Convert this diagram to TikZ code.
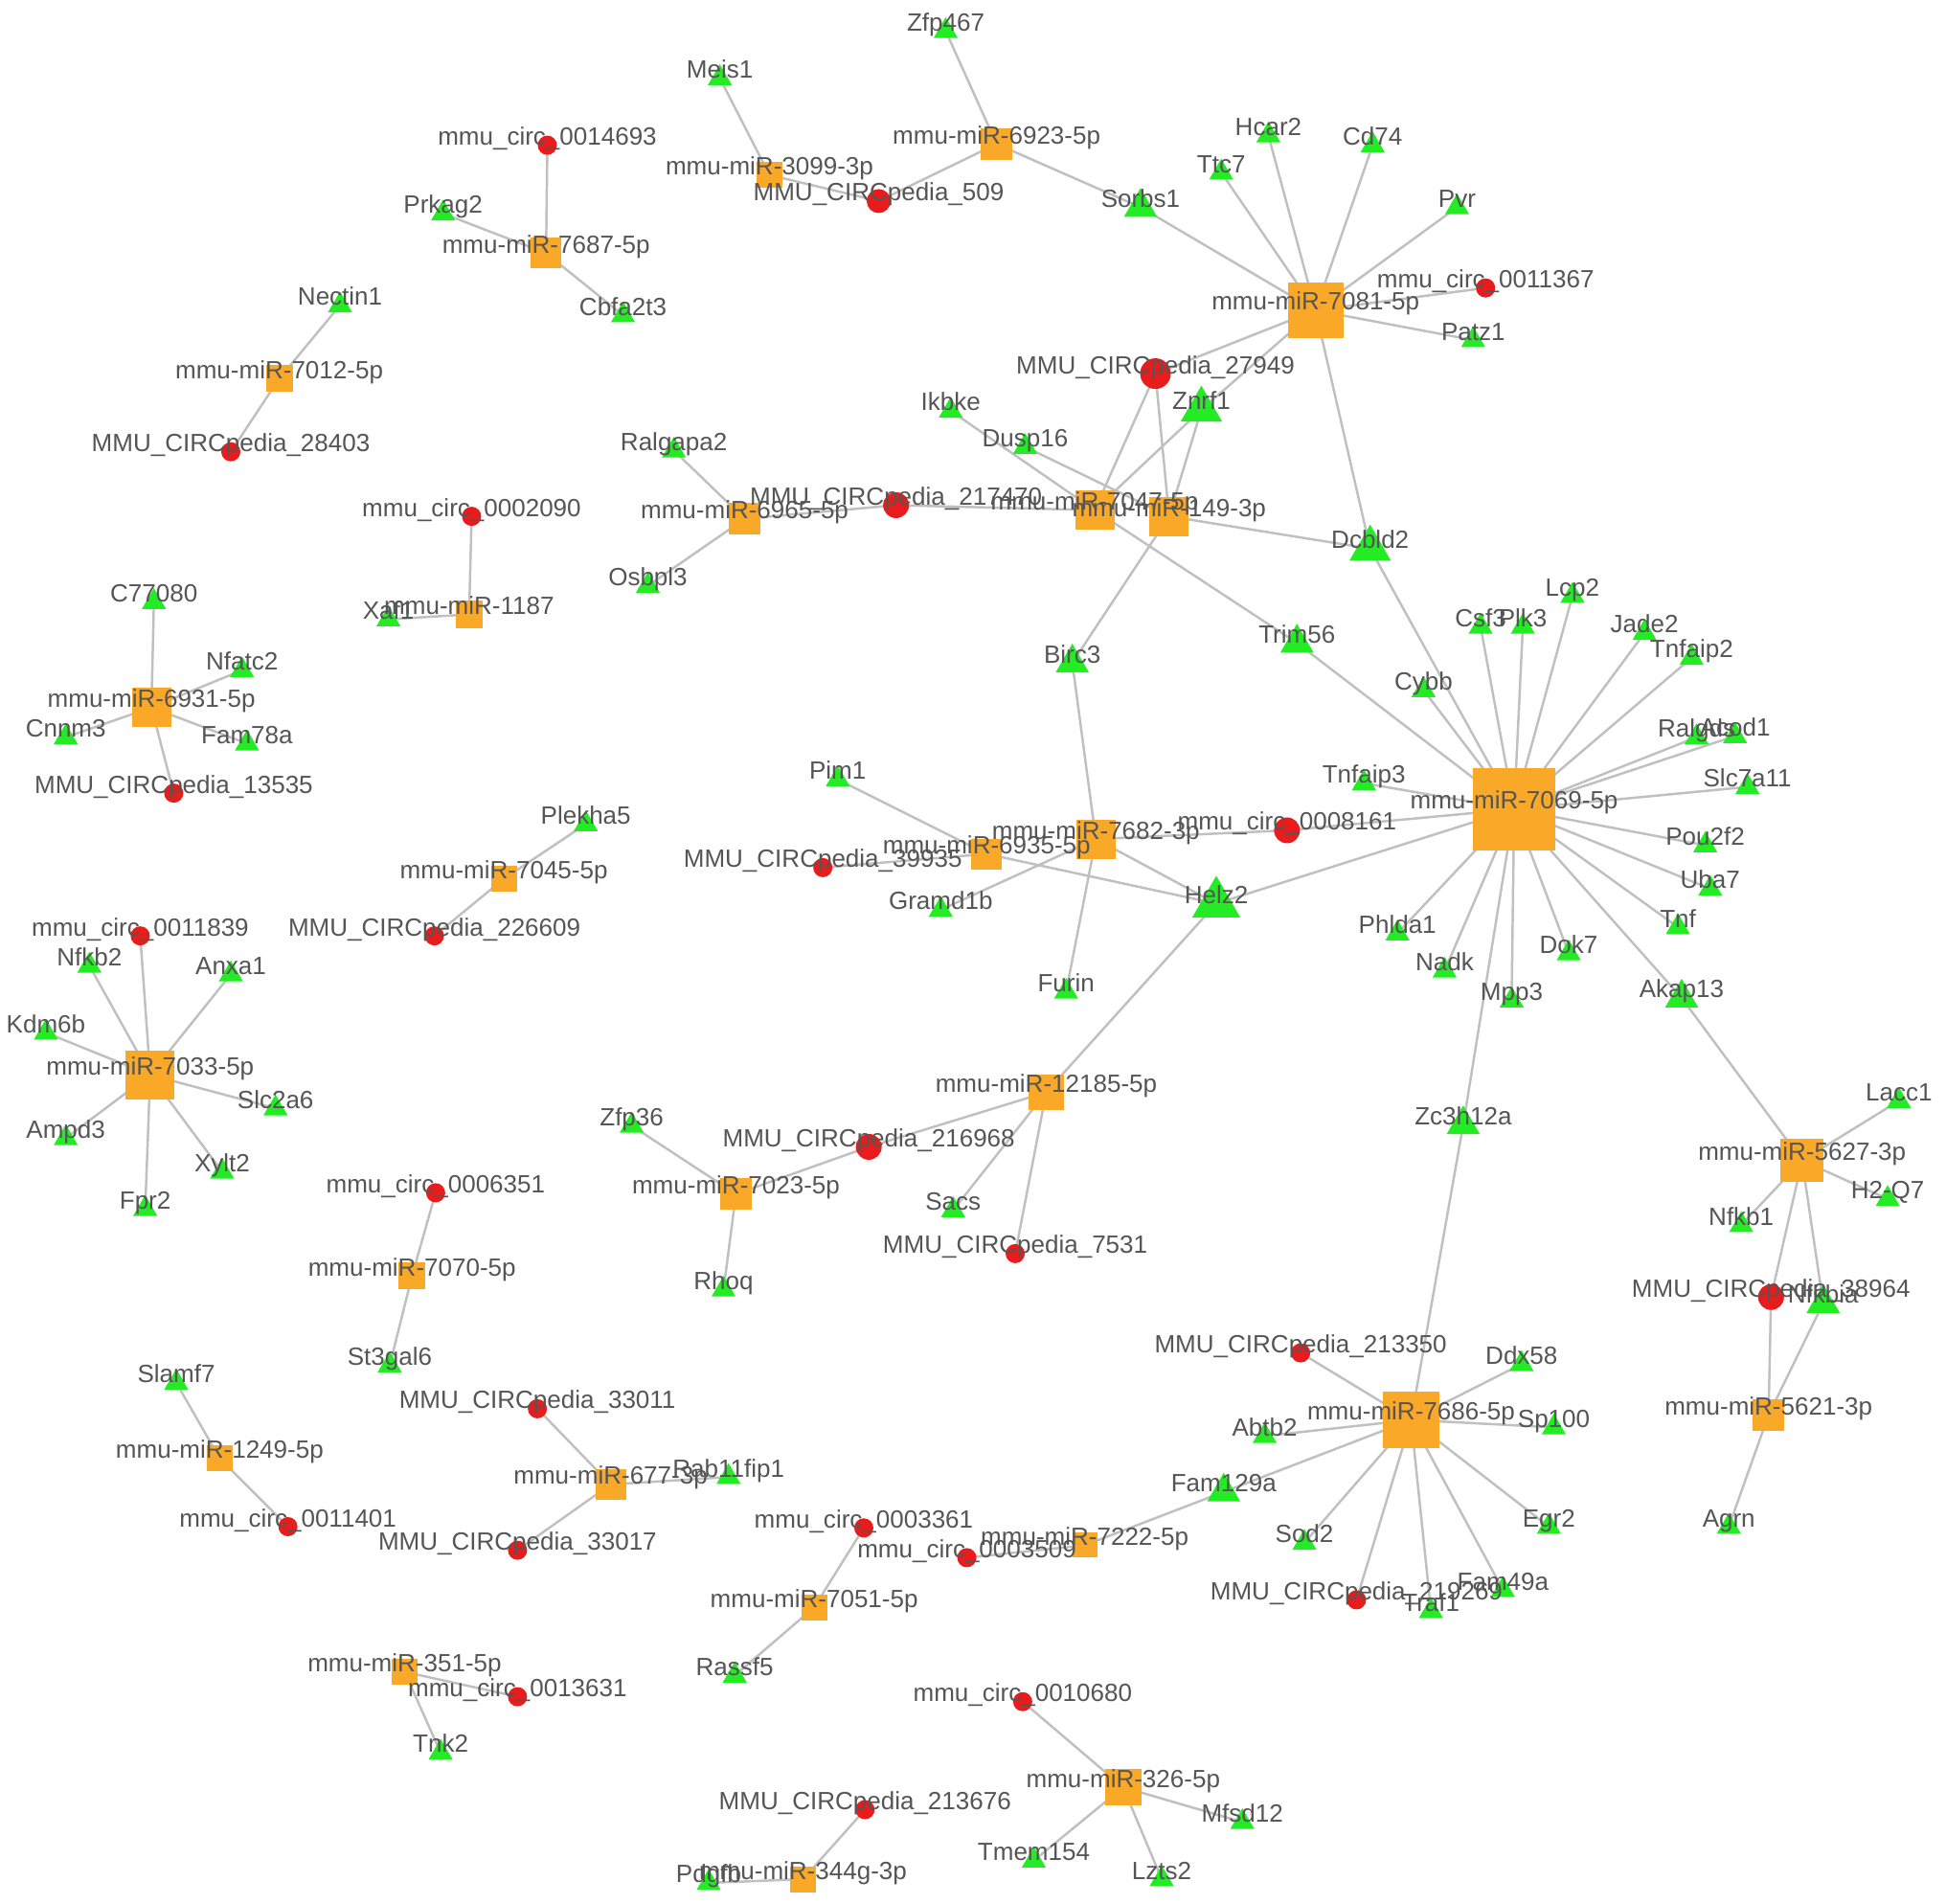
\documentclass[tikz,border=0pt]{standalone}
\usepackage{fontspec}
\setmainfont{Liberation Sans}
\usetikzlibrary{shapes.geometric,backgrounds}
\pgfdeclarelayer{front}
\pgfsetlayers{background,main,front}
\definecolor{mirorange}{RGB}{250,168,40}
\definecolor{circred}{RGB}{232,28,28}
\definecolor{genegreen}{RGB}{36,236,36}
\definecolor{linkgray}{RGB}{192,192,192}
\definecolor{txtgray}{RGB}{85,85,85}

\begin{document}
\begin{tikzpicture}[x=0.012959cm,y=-0.012959cm,
  mir/.style={fill=mirorange,rectangle,inner sep=0pt,minimum size=#1},
  circ/.style={fill=circred,circle,inner sep=0pt,minimum size=#1},
  gene/.style={fill=genegreen,regular polygon,regular polygon sides=3,inner sep=0pt,minimum size=#1},
  lbl/.style={anchor=base,text=txtgray,inner sep=0pt,font=\fontsize{7.4}{8.8}\selectfont},
  link/.style={draw=linkgray,line width=0.7pt}]
\useasboundingbox (0,0) rectangle (1568,1534);

% miRNAs
\foreach \id/\x/\y/\s/\txt in {
  m7687/440/204/0.32cm/mmu-miR-7687-5p,
  m7012/225/305/0.28cm/mmu-miR-7012-5p,
  m1187/378/495/0.28cm/mmu-miR-1187,
  m6931/122/570/0.41cm/mmu-miR-6931-5p,
  m7045/406/708/0.27cm/mmu-miR-7045-5p,
  m7033/121/866/0.51cm/mmu-miR-7033-5p,
  m7070/332/1028/0.28cm/mmu-miR-7070-5p,
  m1249/177/1175/0.27cm/mmu-miR-1249-5p,
  m677/492/1196/0.32cm/mmu-miR-677-3p,
  m351/326/1347/0.27cm/mmu-miR-351-5p,
  m3099/620/141/0.27cm/mmu-miR-3099-3p,
  m6923/803/116/0.33cm/mmu-miR-6923-5p,
  m7081/1060/250/0.58cm/mmu-miR-7081-5p,
  m6965/600/418/0.33cm/mmu-miR-6965-5p,
  m7047/882/411/0.41cm/mmu-miR-7047-5p,
  m149/942/416/0.41cm/mmu-miR-149-3p,
  m7069/1220/652/0.86cm/mmu-miR-7069-5p,
  m7682/883/676/0.41cm/mmu-miR-7682-3p,
  m6935/795/688/0.32cm/mmu-miR-6935-5p,
  m12185/843/880/0.37cm/mmu-miR-12185-5p,
  m7023/593/962/0.33cm/mmu-miR-7023-5p,
  m7686/1137/1144/0.59cm/mmu-miR-7686-5p,
  m7222/874/1245/0.26cm/mmu-miR-7222-5p,
  m7051/656/1295/0.27cm/mmu-miR-7051-5p,
  m326/905/1440/0.38cm/mmu-miR-326-5p,
  m344g/647/1514/0.27cm/mmu-miR-344g-3p,
  m5627/1452/935/0.45cm/mmu-miR-5627-3p,
  m5621/1425/1140/0.33cm/mmu-miR-5621-3p}{
  \node[mir=\s] (\id) at (\x,\y) {};
  \begin{pgfonlayer}{front}\node[lbl] at (\id.center) {\txt};\end{pgfonlayer}
}

% circRNAs
\foreach \id/\x/\y/\s/\txt in {
  c0014693/441/117/0.20cm/mmu\_circ\_0014693,
  cp28403/186/364/0.20cm/MMU\_CIRCpedia\_28403,
  c0002090/380/416/0.20cm/mmu\_circ\_0002090,
  cp13535/140/639/0.20cm/MMU\_CIRCpedia\_13535,
  cp226609/350/754/0.20cm/MMU\_CIRCpedia\_226609,
  c0011839/113/754/0.20cm/mmu\_circ\_0011839,
  c0006351/351/961/0.20cm/mmu\_circ\_0006351,
  c0011401/232/1230/0.20cm/mmu\_circ\_0011401,
  cp33011/433/1135/0.20cm/MMU\_CIRCpedia\_33011,
  cp33017/417/1249/0.20cm/MMU\_CIRCpedia\_33017,
  c0013631/417/1367/0.20cm/mmu\_circ\_0013631,
  cp509/708/162/0.25cm/MMU\_CIRCpedia\_509,
  cp27949/931/301/0.32cm/MMU\_CIRCpedia\_27949,
  c0011367/1197/232/0.20cm/mmu\_circ\_0011367,
  cp217470/722/407/0.27cm/MMU\_CIRCpedia\_217470,
  c0008161/1037/669/0.27cm/mmu\_circ\_0008161,
  cp39935/663/699/0.20cm/MMU\_CIRCpedia\_39935,
  cp216968/700/924/0.27cm/MMU\_CIRCpedia\_216968,
  cp7531/818/1010/0.20cm/MMU\_CIRCpedia\_7531,
  cp213350/1048/1090/0.20cm/MMU\_CIRCpedia\_213350,
  cp219269/1093/1289/0.20cm/MMU\_CIRCpedia\_219269,
  c0003361/696/1231/0.20cm/mmu\_circ\_0003361,
  c0003509/779/1255/0.20cm/mmu\_circ\_0003509,
  c0010680/824/1371/0.20cm/mmu\_circ\_0010680,
  cp213676/697/1458/0.20cm/MMU\_CIRCpedia\_213676,
  cp38964/1427/1045/0.27cm/MMU\_CIRCpedia\_38964}{
  \node[circ=\s] (\id) at (\x,\y) {};
  \begin{pgfonlayer}{front}\node[lbl] at (\id.center) {\txt};\end{pgfonlayer}
}

% target genes
\foreach \id/\x/\y/\s/\txt in {
  Prkag2/357/172/0.29cm/Prkag2,
  Cbfa2t3/502/254/0.29cm/Cbfa2t3,
  Nectin1/274/246/0.29cm/Nectin1,
  Xaf1/313/499/0.29cm/Xaf1,
  C77080/124/485/0.29cm/C77080,
  Nfatc2/195/540/0.29cm/Nfatc2,
  Cnnm3/53/594/0.29cm/Cnnm3,
  Fam78a/199/599/0.29cm/Fam78a,
  Plekha5/472/664/0.29cm/Plekha5,
  Nfkb2/72/778/0.29cm/Nfkb2,
  Anxa1/186/785/0.29cm/Anxa1,
  Kdm6b/37/832/0.29cm/Kdm6b,
  Slc2a6/222/893/0.29cm/Slc2a6,
  Ampd3/53/917/0.29cm/Ampd3,
  Xylt2/179/944/0.29cm/Xylt2,
  Fpr2/117/974/0.29cm/Fpr2,
  St3gal6/314/1100/0.29cm/St3gal6,
  Slamf7/142/1114/0.29cm/Slamf7,
  Rab11fip1/587/1190/0.29cm/Rab11fip1,
  Tnk2/355/1412/0.29cm/Tnk2,
  Meis1/580/63/0.29cm/Meis1,
  Zfp467/762/25/0.29cm/Zfp467,
  Sorbs1/919/167/0.40cm/Sorbs1,
  Ttc7/984/139/0.29cm/Ttc7,
  Hcar2/1022/109/0.29cm/Hcar2,
  Cd74/1106/117/0.29cm/Cd74,
  Pvr/1174/167/0.29cm/Pvr,
  Patz1/1187/274/0.29cm/Patz1,
  Znrf1/968/330/0.50cm/Znrf1,
  Ikbke/766/331/0.29cm/Ikbke,
  Dusp16/826/360/0.29cm/Dusp16,
  Ralgapa2/543/363/0.29cm/Ralgapa2,
  Osbpl3/522/472/0.29cm/Osbpl3,
  Dcbld2/1104/442/0.50cm/Dcbld2,
  Birc3/864/534/0.40cm/Birc3,
  Trim56/1045/518/0.40cm/Trim56,
  Cybb/1147/556/0.29cm/Cybb,
  Csf3/1193/505/0.29cm/Csf3,
  Plk3/1227/505/0.29cm/Plk3,
  Lcp2/1267/480/0.29cm/Lcp2,
  Jade2/1325/510/0.29cm/Jade2,
  Tnfaip2/1363/530/0.29cm/Tnfaip2,
  Ralgds/1367/594/0.29cm/Ralgds,
  Acod1/1398/593/0.29cm/Acod1,
  Slc7a11/1408/634/0.29cm/Slc7a11,
  Pou2f2/1374/681/0.29cm/Pou2f2,
  Uba7/1378/716/0.29cm/Uba7,
  Tnf/1352/747/0.29cm/Tnf,
  Akap13/1355/804/0.40cm/Akap13,
  Dok7/1264/768/0.29cm/Dok7,
  Mpp3/1218/806/0.29cm/Mpp3,
  Nadk/1164/782/0.29cm/Nadk,
  Phlda1/1126/752/0.29cm/Phlda1,
  Zc3h12a/1179/906/0.40cm/Zc3h12a,
  Tnfaip3/1099/631/0.29cm/Tnfaip3,
  Helz2/980/728/0.58cm/Helz2,
  Pim1/675/628/0.29cm/Pim1,
  Gramd1b/758/733/0.29cm/Gramd1b,
  Furin/859/799/0.29cm/Furin,
  Sacs/768/975/0.29cm/Sacs,
  Zfp36/509/907/0.29cm/Zfp36,
  Rhoq/583/1039/0.29cm/Rhoq,
  Ddx58/1226/1099/0.29cm/Ddx58,
  Sp100/1252/1150/0.29cm/Sp100,
  Egr2/1248/1230/0.29cm/Egr2,
  Fam49a/1211/1281/0.29cm/Fam49a,
  Traf1/1153/1298/0.29cm/Traf1,
  Sod2/1051/1243/0.29cm/Sod2,
  Fam129a/986/1202/0.40cm/Fam129a,
  Abtb2/1019/1157/0.29cm/Abtb2,
  Rassf5/592/1350/0.29cm/Rassf5,
  Mfsd12/1001/1468/0.29cm/Mfsd12,
  Tmem154/833/1499/0.29cm/Tmem154,
  Lzts2/936/1514/0.29cm/Lzts2,
  Pdgfb/571/1517/0.29cm/Pdgfb,
  Lacc1/1530/887/0.29cm/Lacc1,
  H2Q7/1521/966/0.29cm/H2-Q7,
  Nfkb1/1403/987/0.29cm/Nfkb1,
  Nfkbia/1469/1050/0.40cm/Nfkbia,
  Agrn/1393/1230/0.29cm/Agrn}{
  \node[gene=\s] (\id) at (\x,\y) {};
  \begin{pgfonlayer}{front}\node[lbl] at (\id.center) {\txt};\end{pgfonlayer}
}

\begin{pgfonlayer}{background}
\fill[white] (0,0) rectangle (1568,1534);
\foreach \a/\b in {
  m7687/c0014693, m7687/Prkag2, m7687/Cbfa2t3,
  m7012/Nectin1, m7012/cp28403,
  m1187/c0002090, m1187/Xaf1,
  m6931/C77080, m6931/Nfatc2, m6931/Cnnm3, m6931/Fam78a, m6931/cp13535,
  m7045/Plekha5, m7045/cp226609,
  m7033/c0011839, m7033/Nfkb2, m7033/Anxa1, m7033/Kdm6b, m7033/Slc2a6,
  m7033/Ampd3, m7033/Xylt2, m7033/Fpr2,
  m7070/c0006351, m7070/St3gal6,
  m1249/Slamf7, m1249/c0011401,
  m677/cp33011, m677/Rab11fip1, m677/cp33017,
  m351/c0013631, m351/Tnk2,
  m3099/Meis1, m3099/cp509,
  m6923/cp509, m6923/Zfp467, m6923/Sorbs1,
  m7081/Sorbs1, m7081/Ttc7, m7081/Hcar2, m7081/Cd74, m7081/Pvr,
  m7081/c0011367, m7081/Patz1, m7081/cp27949, m7081/Znrf1, m7081/Dcbld2,
  m6965/Ralgapa2, m6965/Osbpl3, m6965/cp217470,
  m7047/cp217470, m7047/Ikbke, m7047/cp27949, m7047/Znrf1, m7047/Trim56,
  m149/Dusp16, m149/cp27949, m149/Znrf1, m149/Dcbld2, m149/Birc3,
  m7069/Dcbld2, m7069/Trim56, m7069/Cybb, m7069/Csf3, m7069/Plk3,
  m7069/Lcp2, m7069/Jade2, m7069/Tnfaip2, m7069/Ralgds, m7069/Acod1,
  m7069/Slc7a11, m7069/Pou2f2, m7069/Uba7, m7069/Tnf, m7069/Akap13,
  m7069/Dok7, m7069/Mpp3, m7069/Nadk, m7069/Phlda1, m7069/Zc3h12a,
  m7069/Tnfaip3, m7069/c0008161, m7069/Helz2,
  m7682/Birc3, m7682/Helz2, m7682/Furin, m7682/c0008161, m7682/Gramd1b,
  m6935/Pim1, m6935/cp39935, m6935/Helz2,
  m12185/Helz2, m12185/cp216968, m12185/Sacs, m12185/cp7531,
  m7023/Zfp36, m7023/cp216968, m7023/Rhoq,
  m7686/Zc3h12a, m7686/cp213350, m7686/Ddx58, m7686/Sp100, m7686/Egr2,
  m7686/Fam49a, m7686/Traf1, m7686/cp219269, m7686/Sod2, m7686/Fam129a,
  m7686/Abtb2,
  m7222/Fam129a, m7222/c0003509,
  m7051/c0003361, m7051/Rassf5,
  m326/c0010680, m326/Mfsd12, m326/Lzts2, m326/Tmem154,
  m344g/cp213676, m344g/Pdgfb,
  m5627/Akap13, m5627/Lacc1, m5627/H2Q7, m5627/Nfkb1, m5627/cp38964, m5627/Nfkbia,
  m5621/cp38964, m5621/Nfkbia, m5621/Agrn}{
  \draw[link] (\a.center) -- (\b.center);
}
\end{pgfonlayer}
\end{tikzpicture}
\end{document}
